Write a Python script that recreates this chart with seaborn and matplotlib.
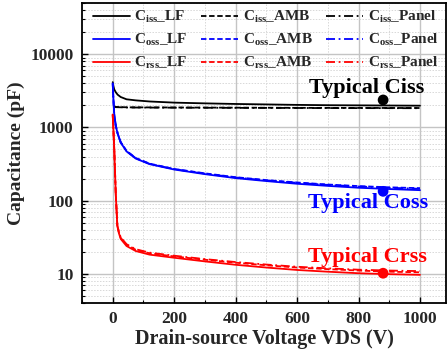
import numpy as np
import pandas as pd
import matplotlib
matplotlib.use("Agg")
import matplotlib.pyplot as plt
import seaborn as sns
from matplotlib.ticker import LogLocator, MultipleLocator, NullFormatter, FixedLocator

sns.set_theme(style="white")
plt.rcParams['font.family'] = ['Liberation Serif', 'DejaVu Serif']
plt.rcParams['font.weight'] = 'bold'
plt.rcParams['mathtext.fontset'] = 'custom'
plt.rcParams['mathtext.rm'] = 'Liberation Serif:bold'
plt.rcParams['mathtext.bf'] = 'Liberation Serif:bold'
plt.rcParams['mathtext.it'] = 'Liberation Serif:bold'

# ---- data ----
v_iss_lf = [0, 2, 5, 10, 16, 26, 45, 75, 120, 200, 300, 400, 500, 600, 700, 800, 900, 1000]
ciss_lf = [4150, 3700, 3300, 3020, 2800, 2600, 2420, 2340, 2260, 2180, 2130, 2090, 2060, 2030, 2010, 2000, 1990, 1980]
v_iss_amb = [3, 10, 50, 200, 400, 600, 800, 1000]
ciss_amb = [1950, 1900, 1880, 1870, 1860, 1850, 1845, 1840]
ciss_panel = [1930, 1890, 1870, 1860, 1850, 1842, 1835, 1830]

v_oss = [0, 2, 5, 10, 16, 26, 45, 75, 120, 200, 300, 400, 500, 600, 700, 800, 900, 1000]
coss_lf = [4000, 2500, 1500, 1050, 820, 620, 470, 375, 315, 266, 230, 203, 185, 170, 159, 150, 144, 139]
coss_amb = [4000, 2500, 1500, 1050, 830, 630, 478, 382, 320, 271, 236, 209, 191, 177, 166, 158, 152, 148]
coss_panel = [4000, 2500, 1500, 1050, 825, 625, 475, 380, 318, 269, 234, 207, 189, 175, 164, 156, 150, 145]

v_rss = [0, 5, 10, 15, 20, 26, 45, 75, 120, 200, 300, 400, 500, 600, 700, 800, 900, 1000]
crss_lf = [1500, 500, 120, 45, 36, 30, 24, 20.5, 18.3, 16.6, 14.8, 13.3, 12.2, 11.3, 10.7, 10.2, 9.9, 9.7]
crss_amb = [1500, 500, 120, 46, 37, 31, 25, 21.3, 19.1, 17.3, 15.6, 14.2, 13.1, 12.2, 11.6, 11.1, 10.7, 10.5]
crss_panel = [1500, 500, 120, 46, 37.5, 31.5, 25.4, 21.7, 19.5, 17.7, 15.9, 14.5, 13.4, 12.5, 11.9, 11.4, 11.1, 10.9]

typ_v = [880, 880, 880]
typ_c = [2370, 134, 10.2]
typ_labels = ["Typical Ciss", "Typical Coss", "Typical Crss"]
typ_text_v = [825, 830, 830]
typ_text_c = [3450, 94, 17.1]

xticks = [0, 200, 400, 600, 800, 1000]
yticks = [10, 100, 1000, 10000]

fig = plt.figure(figsize=(4.47, 3.58), dpi=100)
ax = fig.add_axes([82/447, 1 - 303/358, (447 - 82)/447 - 0.002, 300/358])

series = [
    (v_iss_lf, ciss_lf, 'black', '-', r'C$_{\mathrm{iss}}$_LF'),
    (v_oss, coss_lf, '#0000ff', '-', r'C$_{\mathrm{oss}}$_LF'),
    (v_rss, crss_lf, '#ff0000', '-', r'C$_{\mathrm{rss}}$_LF'),
    (v_iss_amb, ciss_amb, 'black', (0, (3, 1.5)), r'C$_{\mathrm{iss}}$_AMB'),
    (v_oss, coss_amb, '#0000ff', (0, (3, 1.5)), r'C$_{\mathrm{oss}}$_AMB'),
    (v_rss, crss_amb, '#ff0000', (0, (3, 1.5)), r'C$_{\mathrm{rss}}$_AMB'),
    (v_iss_amb, ciss_panel, 'black', (0, (5, 2, 1, 2)), r'C$_{\mathrm{iss}}$_Panel'),
    (v_oss, coss_panel, '#0000ff', (0, (5, 2, 1, 2)), r'C$_{\mathrm{oss}}$_Panel'),
    (v_rss, crss_panel, '#ff0000', (0, (5, 2, 1, 2)), r'C$_{\mathrm{rss}}$_Panel'),
]

for x, y, c, ls, lab in series:
    sns.lineplot(x=x, y=y, ax=ax, color=c, linestyle=ls, linewidth=1.3,
                 label=lab, sort=False, estimator=None, zorder=3)

ax.set_yscale('log')
ax.set_xlim(-100, 1085)
ax.set_ylim(4, 50000)

typ_colors = ['black', '#0000ff', '#ff0000']
sns.scatterplot(x=typ_v, y=typ_c, ax=ax, hue=typ_labels, palette=typ_colors,
                s=60, edgecolor='none', legend=False, zorder=5)
for xv, yv, lab, col in zip(typ_text_v, typ_text_c, typ_labels, typ_colors):
    ax.text(xv, yv, lab, color=col, fontsize=16, fontweight='bold',
            ha='center', va='center', zorder=6)

# ticks & grid
ax.xaxis.set_major_locator(FixedLocator(xticks))
ax.xaxis.set_minor_locator(MultipleLocator(100))
ax.yaxis.set_major_locator(FixedLocator(yticks))
ax.yaxis.set_minor_locator(LogLocator(base=10, subs=np.arange(2, 10)))
ax.yaxis.set_minor_formatter(NullFormatter())
ax.set_yticklabels([str(t) for t in yticks])
ax.set_xticklabels([str(t) for t in xticks])
ax.tick_params(axis='both', which='major', direction='in', length=4, width=1,
               labelsize=12.5, color='black', left=True, bottom=True, pad=6)
ax.tick_params(axis='both', which='minor', direction='in', length=2.5, width=0.8,
               color='black', left=True, bottom=True)
for lab in ax.get_xticklabels() + ax.get_yticklabels():
    lab.set_fontweight('bold')

ax.grid(True, which='major', color='#c4c4c4', linewidth=1.0, linestyle='-', zorder=0)
ax.grid(True, which='minor', color='#d8d8d8', linewidth=0.7, linestyle=(0, (1.5, 1.5)), zorder=0)
ax.set_axisbelow(True)

for sp in ax.spines.values():
    sp.set_color('black')
    sp.set_linewidth(1.3)

ax.set_xlabel('Drain-source Voltage VDS (V)', fontsize=14.5, fontweight='bold', labelpad=1)
ax.set_ylabel('Capacitance (pF)', fontsize=14, fontweight='bold', labelpad=4)

leg = ax.legend(ncol=3, loc='upper left', bbox_to_anchor=(0.005, 1.01), frameon=False,
                fontsize=11, handlelength=2.4, handletextpad=0.3, columnspacing=0.9,
                labelspacing=0.45, borderaxespad=0.2)
for t in leg.get_texts():
    t.set_fontweight('bold')

fig.savefig('out.png', dpi=100)
